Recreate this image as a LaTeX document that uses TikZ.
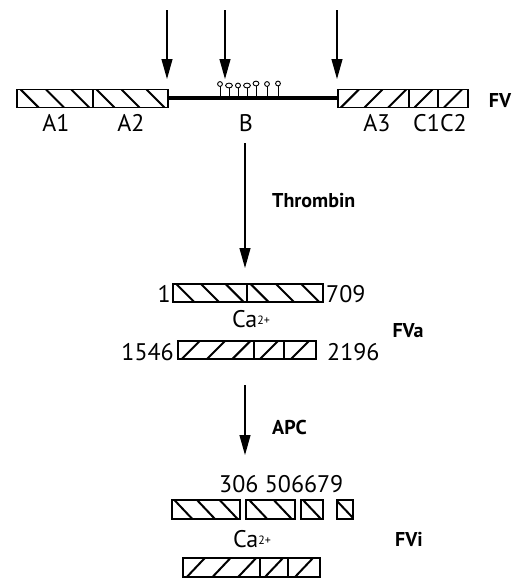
\documentclass[tikz,border=0pt]{standalone}
\usepackage{fontspec}
\setmainfont{PT Sans}
\usetikzlibrary{arrows.meta}
\tikzset{
  boxline/.style={line width=1.6pt},
  hatch/.style={line width=2pt},
  cut/.style={line width=1.1pt,-{Triangle[length=20pt,width=11pt]}},
  lbl/.style={font=\fontsize{24}{26}\selectfont,inner sep=0pt},
  blbl/.style={font=\fontsize{20}{22}\selectfont\bfseries,inner sep=0pt},
}
% hatched box: x1,x2,y1,y2,n strokes, dir (1 = "\", -1 = "/")
\newcommand\hatchbox[6]{%
  \begin{scope}
    \clip (#1,#3) rectangle (#2,#4);
    \pgfmathsetmacro\pp{(#2-#1)/#5}
    \foreach \i in {1,...,#5}{
      \pgfmathsetmacro\cx{#1+(\i-0.5)*\pp}
      \ifnum#6=1
        \draw[hatch] (\cx-9,#3) -- (\cx+9,#4);
      \else
        \draw[hatch] (\cx-9,#4) -- (\cx+9,#3);
      \fi
    }
  \end{scope}
  \draw[boxline] (#1,#3) rectangle (#2,#4);
}
\newcommand\caion{Ca{\fontsize{12}{12}\selectfont\raisebox{3pt}{2+}}}
\begin{document}
\begin{tikzpicture}[x=1pt,y=-1pt]
\useasboundingbox (0,0) rectangle (528,579);
% ---------- FV ----------
\coordinate (t1s) at (167,10); \coordinate (t1e) at (167,79);
\coordinate (t2s) at (225,10); \coordinate (t2e) at (225,79);
\coordinate (t3s) at (337,10); \coordinate (t3e) at (337,79);
\draw[cut] (t1s) -- (t1e);
\draw[cut] (t2s) -- (t2e);
\draw[cut] (t3s) -- (t3e);
\coordinate (bl) at (168,98); \coordinate (br) at (338,98);
\draw[line width=4pt] (bl) -- (br);
% glycosylation lollipops
\foreach \x/\hy/\rx in {220/84/2.4, 229/85.5/3.4, 238/85.5/2.5, 247/85.5/3.4, 256/83.5/2.9, 267/84/2.4, 278/83.5/2.4}{
  \draw[line width=0.9pt] (\x,96) -- (\x,\hy+2.4);
  \draw[line width=0.9pt] (\x,\hy) ellipse [x radius=\rx, y radius=2.4];
}
\hatchbox{17}{93}{89.5}{107.5}{3}{1}
\hatchbox{93}{168}{89.5}{107.5}{3}{1}
\hatchbox{338}{409}{89.5}{107.5}{3}{-1}
\hatchbox{409}{438}{89.5}{107.5}{1}{-1}
\hatchbox{438}{468}{89.5}{107.5}{1}{-1}
\node[lbl,anchor=base] (lA1) at (56,131) {A1};
\node[lbl,anchor=base] (lA2) at (131,131) {A2};
\node[lbl,anchor=base] (lB) at (246,131) {B};
\node[lbl,anchor=base] (lA3) at (377,131) {A3};
\node[lbl,anchor=base] (lC) at (440,131) {C1C2};
\node[blbl,anchor=base] (lFV) at (500,107) {FV};
% ---------- Thrombin ----------
\coordinate (a1s) at (245,143); \coordinate (a1e) at (245,268);
\draw[cut] (a1s) -- (a1e);
\node[blbl,anchor=base west] (thr) at (272,207) {Thrombin};
% ---------- FVa ----------
\hatchbox{173}{247}{284}{302}{3}{1}
\hatchbox{247}{323}{284}{302}{3}{1}
\node[lbl,anchor=base east] (n1) at (171,302) {1};
\node[lbl,anchor=base west] (n709) at (326,302) {709};
\node[lbl,anchor=base] (ca1) at (251,327) {\caion};
\node[blbl,anchor=base] (lFVa) at (408,337) {FVa};
\hatchbox{178}{254}{341}{359}{3}{-1}
\hatchbox{254}{284}{341}{359}{1}{-1}
\hatchbox{284}{316}{341}{359}{1}{-1}
\node[lbl,anchor=base east] (n1546) at (174,360) {1546};
\node[lbl,anchor=base west] (n2196) at (327,360) {2196};
% ---------- APC ----------
\coordinate (a2s) at (245,385); \coordinate (a2e) at (245,455);
\draw[cut] (a2s) -- (a2e);
\node[blbl,anchor=base west] (apc) at (272,434) {APC};
% ---------- FVi ----------
\node[lbl,anchor=base west] (nfvi) at (219,492) {306 506679};
\hatchbox{172}{240}{500}{519}{3}{1}
\hatchbox{246}{295}{500}{519}{2}{1}
\hatchbox{301}{323}{500}{519}{1}{1}
\hatchbox{337}{353}{500}{519}{1}{1}
\node[lbl,anchor=base] (ca2) at (252,547) {\caion};
\node[blbl,anchor=base] (lFVi) at (409,546) {FVi};
\hatchbox{183}{260}{558}{577}{3}{-1}
\hatchbox{260}{288}{558}{577}{1}{-1}
\hatchbox{288}{320}{558}{577}{1}{-1}
\end{tikzpicture}
\end{document}
